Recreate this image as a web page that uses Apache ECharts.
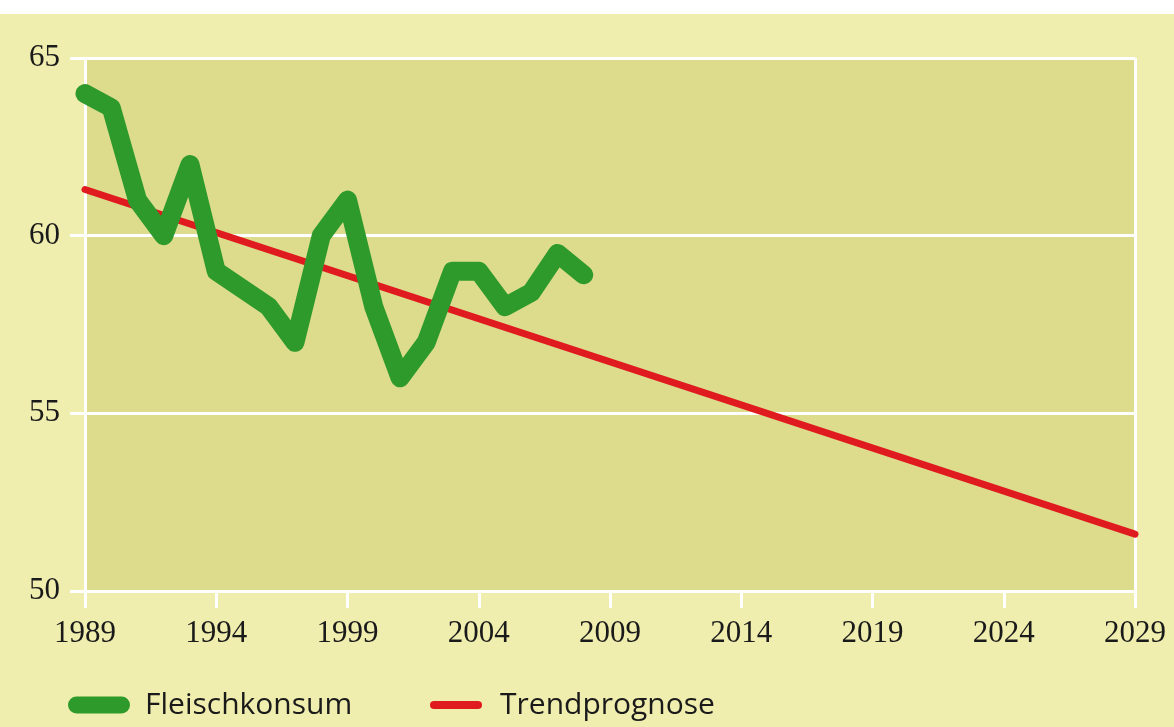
<!DOCTYPE html>
<html><head><meta charset="utf-8">
<script src="https://cdn.jsdelivr.net/npm/echarts@6/dist/echarts.min.js"></script>
<style>
html,body{margin:0;padding:0;background:#ffffff;}
#c{position:absolute;left:0;top:14px;width:1174px;height:713px;}
</style></head>
<body><div id="c"></div>
<script>
// Axis categories (years) and tick labels
const years = [];
for (let y = 1989; y <= 2029; y++) years.push(String(y));
const yTicks = [50, 55, 60, 65];

// Fleischkonsum series
const consumptionYears = ['1989','1990','1991','1992','1993','1994','1995','1996','1997','1998','1999','2000','2001','2002','2003','2004','2005','2006','2007','2008'];
const consumptionValues = [64.0, 63.6, 61.0, 60.0, 62.0, 59.0, 58.5, 58.0, 57.0, 60.0, 61.0, 58.0, 56.0, 57.0, 59.0, 59.0, 58.0, 58.4, 59.5, 58.9];

// Trendprognose (straight line endpoints)
const trendYears = ['1989', '2029'];
const trendValues = [61.3, 51.6];

const seriesNames = ['Fleischkonsum', 'Trendprognose'];

const chart = echarts.init(document.getElementById('c'), null, {renderer: 'canvas'});
const pillGreen = 'path://M8.5,0 L53.5,0 A8.5,8.5 0 0 1 53.5,17 L8.5,17 A8.5,8.5 0 0 1 8.5,0 Z';
const pillRed = 'path://M4,0 L48,0 A4,4 0 0 1 48,8 L4,8 A4,4 0 0 1 4,0 Z';
const labelFont = {fontFamily: 'Liberation Serif', fontSize: 31, color: '#1a1a1a'};
const legendFont = {fontFamily: 'Open Sans', fontSize: 30, color: '#1a1a1a'};

chart.setOption({
  animation: false,
  backgroundColor: '#f0eeae',
  grid: {left: 85, right: 39, top: 44, bottom: 136, show: true, backgroundColor: '#dcdc8c', borderWidth: 0},
  legend: [
    {data: [{name: seriesNames[0], icon: pillGreen, itemStyle: {color: '#2f9a2c'}}], left: 68, top: 676, padding: 0,
     itemWidth: 62, itemHeight: 17, textStyle: Object.assign({padding: [0,0,0,10]}, legendFont)},
    {data: [{name: seriesNames[1], icon: pillRed, itemStyle: {color: '#e01b1f'}}], left: 430, top: 676, padding: 0,
     itemWidth: 52, itemHeight: 8, textStyle: Object.assign({padding: [0,0,0,13]}, legendFont)}
  ],
  xAxis: {
    type: 'category', data: years, boundaryGap: false,
    axisLine: {show: true, lineStyle: {color: '#ffffff', width: 3}},
    axisTick: {show: true, interval: 4, length: 17, lineStyle: {color: '#ffffff', width: 3}},
    axisLabel: Object.assign({interval: 4, margin: 27}, labelFont),
    splitLine: {show: true, interval: function (i) { return i === 0 || i === years.length - 1; },
                lineStyle: {color: '#ffffff', width: 3}}
  },
  yAxis: {
    type: 'value', min: yTicks[0], max: yTicks[yTicks.length - 1], interval: 5,
    axisLine: {show: false},
    axisTick: {show: true, length: 15, lineStyle: {color: '#ffffff', width: 3}},
    axisLabel: Object.assign({margin: 25}, labelFont),
    splitLine: {show: true, lineStyle: {color: '#ffffff', width: 3}}
  },
  series: [
    {name: seriesNames[1], type: 'line', symbol: 'none', z: 3,
     data: trendYears.map((y, i) => [y, trendValues[i]]),
     lineStyle: {color: '#e01b1f', width: 7, cap: 'round'}, itemStyle: {color: '#e01b1f'}},
    {name: seriesNames[0], type: 'line', symbol: 'none', z: 4,
     data: consumptionYears.map((y, i) => [y, consumptionValues[i]]),
     lineStyle: {color: '#2f9a2c', width: 19, cap: 'round', join: 'round'}, itemStyle: {color: '#2f9a2c'}}
  ]
});
</script></body></html>
